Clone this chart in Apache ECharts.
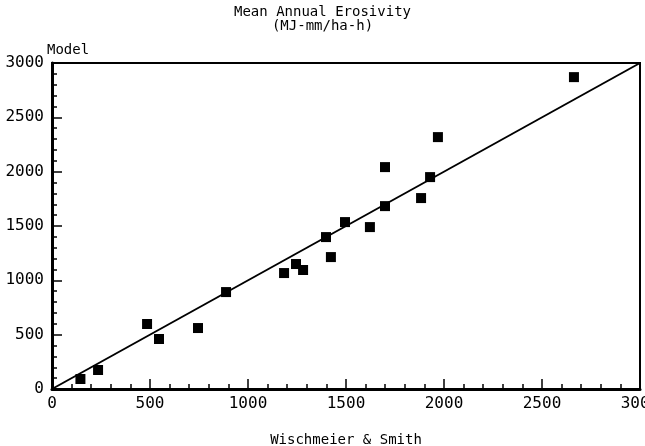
<!DOCTYPE html>
<html>
<head>
<meta charset="utf-8">
<script src="https://cdn.jsdelivr.net/npm/echarts@6/dist/echarts.min.js"></script>
<style>
html,body{margin:0;padding:0;background:#fff;}
#chart{width:645px;height:446px;}
</style>
</head>
<body>
<div id="chart"></div>
<script>
// Station values: Wischmeier & Smith estimate vs. model estimate (MJ-mm/ha-h)
const wischmeierSmith = [145, 235, 485, 546, 745, 888, 1184, 1245, 1281, 1398, 1423, 1495, 1622, 1699, 1699, 1883, 1929, 1969, 2663];
const modelValues     = [ 92, 175, 598, 460, 561, 892, 1067, 1150, 1095, 1398, 1214, 1536, 1490, 1683, 2042, 1757, 1950, 2318, 2870];
// 1:1 reference line
const oneToOne = [[0, 0], [3000, 3000]];
const axisMin = 0, axisMax = 3000, axisStep = 500;

const FONT = 'DejaVu Sans Mono';
const chart = echarts.init(document.getElementById('chart'), null, {renderer: 'canvas'});

const points = wischmeierSmith.map((x, i) => [x, modelValues[i]]);

function valueAxis(extra) {
  return Object.assign({
    type: 'value',
    min: axisMin,
    max: axisMax,
    interval: axisStep,
    axisLine: {show: true, onZero: false, lineStyle: {color: '#000', width: 3}},
    axisTick: {show: true, inside: true, length: 10, lineStyle: {color: '#000', width: 1.5}},
    minorTick: {show: true, splitNumber: 5, length: 5, lineStyle: {color: '#000', width: 1.5}},
    splitLine: {show: false}
  }, extra);
}

const plainNumber = v => String(v);

chart.setOption({
  backgroundColor: '#fff',
  animation: false,
  grid: {
    left: 52, right: 5, top: 63, bottom: 57,
    outerBoundsMode: 'none', containLabel: false,
    show: true, borderColor: '#000', borderWidth: 2, backgroundColor: 'transparent'
  },
  xAxis: valueAxis({
    name: 'Wischmeier & Smith',
    nameLocation: 'middle',
    nameGap: 44,
    nameTextStyle: {color: '#000', fontFamily: FONT, fontSize: 14},
    axisLabel: {color: '#000', fontFamily: FONT, fontSize: 16, margin: 7, formatter: plainNumber}
  }),
  yAxis: valueAxis({
    axisLabel: {color: '#000', fontFamily: FONT, fontSize: 16, margin: 8, formatter: plainNumber}
  }),
  graphic: [
    {type: 'text', left: 'center', top: 5, style: {text: 'Mean Annual Erosivity', fill: '#000', font: '14px ' + FONT}},
    {type: 'text', left: 'center', top: 19, style: {text: '(MJ-mm/ha-h)', fill: '#000', font: '14px ' + FONT}},
    {type: 'text', left: 47, top: 43, style: {text: 'Model', fill: '#000', font: '14px ' + FONT}}
  ],
  series: [
    {
      type: 'line',
      data: oneToOne,
      symbol: 'none',
      lineStyle: {color: '#000', width: 2},
      silent: true
    },
    {
      type: 'scatter',
      data: points,
      symbol: 'rect',
      symbolSize: 10,
      itemStyle: {color: '#000', opacity: 1}
    }
  ]
});
</script>
</body>
</html>
